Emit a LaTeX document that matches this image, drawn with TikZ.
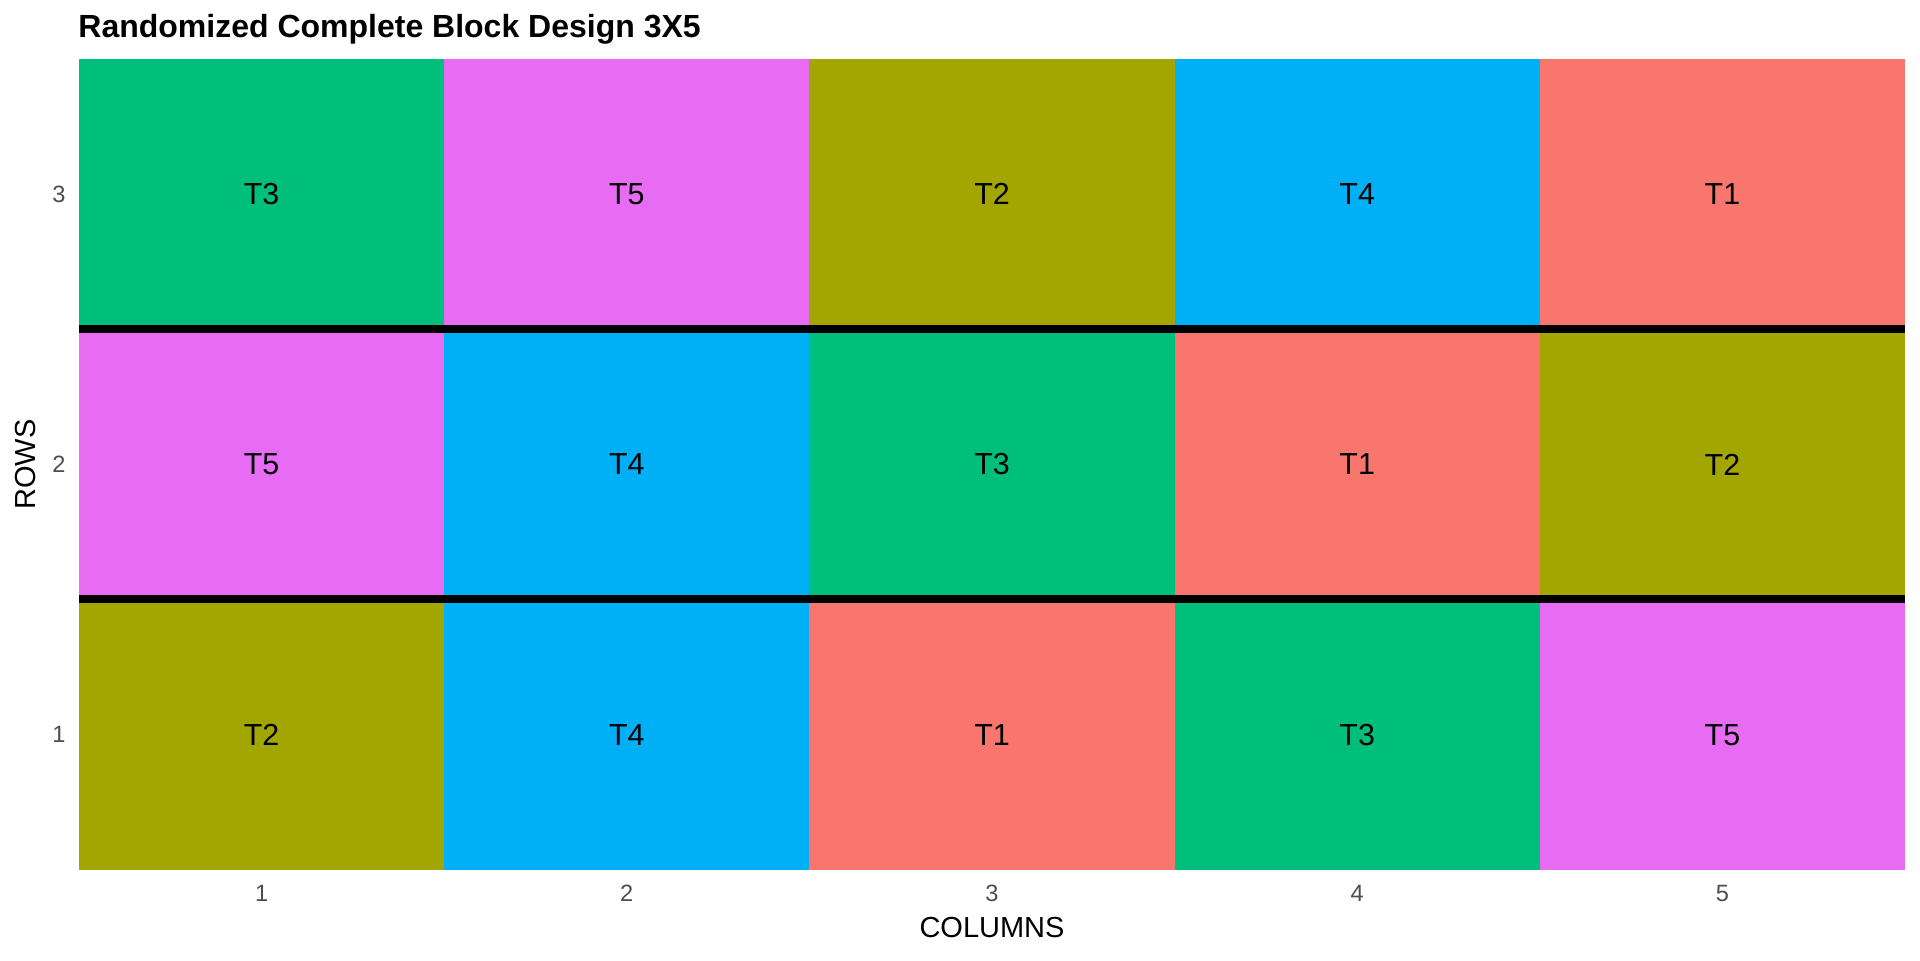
\documentclass[tikz,border=0pt]{standalone}
\usepackage{fontspec}
\setmainfont{Liberation Sans}
\usetikzlibrary{positioning}
\definecolor{colT1}{HTML}{F8766D}
\definecolor{colT2}{HTML}{A3A500}
\definecolor{colT3}{HTML}{00BF7D}
\definecolor{colT4}{HTML}{00B0F6}
\definecolor{colT5}{HTML}{E76BF3}
\definecolor{tickgrey}{HTML}{4D4D4D}

\begin{document}
\begin{tikzpicture}[x=0.5pt, y=-0.5pt,
  cell/.style={minimum width=182.6pt, minimum height=135.15pt, inner sep=0pt,
               font=\fontsize{15.2}{18}\selectfont},
  tick/.style={text=tickgrey, inner sep=0pt, font=\fontsize{11.8}{14}\selectfont},
  axtitle/.style={inner sep=0pt, font=\fontsize{14.5}{17}\selectfont},
  sep/.style={line width=4pt}]
  \useasboundingbox (0,0) rectangle (1920,960);
  % title
  \node[anchor=base west, inner sep=0pt, font=\bfseries\fontsize{16}{19}\selectfont] (title)
    at (78,37) {Randomized Complete Block Design 3X5};
  % plots, one row of blocks at a time
  \foreach \t [count=\c] in {T3,T5,T2,T4,T1}
    \node[cell, fill=col\t] (c3\c) at ({79+365.2*(\c-0.5)}, 194.15) {\t};
  \foreach \t [count=\c] in {T5,T4,T3,T1,T2}
    \node[cell, fill=col\t] (c2\c) at ({79+365.2*(\c-0.5)}, 464.5) {\t};
  \foreach \t [count=\c] in {T2,T4,T1,T3,T5}
    \node[cell, fill=col\t] (c1\c) at ({79+365.2*(\c-0.5)}, 734.85) {\t};
  % block borders
  \draw[sep] (c21.north west) -- (c25.north east);
  \draw[sep] (c11.north west) -- (c15.north east);
  % axes
  \foreach \c in {1,...,5}
    \node[tick] (x\c) at ({79+365.2*(\c-0.5)}, 893) {\c};
  \foreach \r/\y in {3/194.15, 2/464.5, 1/734.85}
    \node[tick, anchor=east] (y\r) at (66,\y) {\r};
  \node[axtitle] (xlab) at (992,927.5) {COLUMNS};
  \node[axtitle, rotate=90] (ylab) at (26,464.5) {ROWS};
\end{tikzpicture}
\end{document}
